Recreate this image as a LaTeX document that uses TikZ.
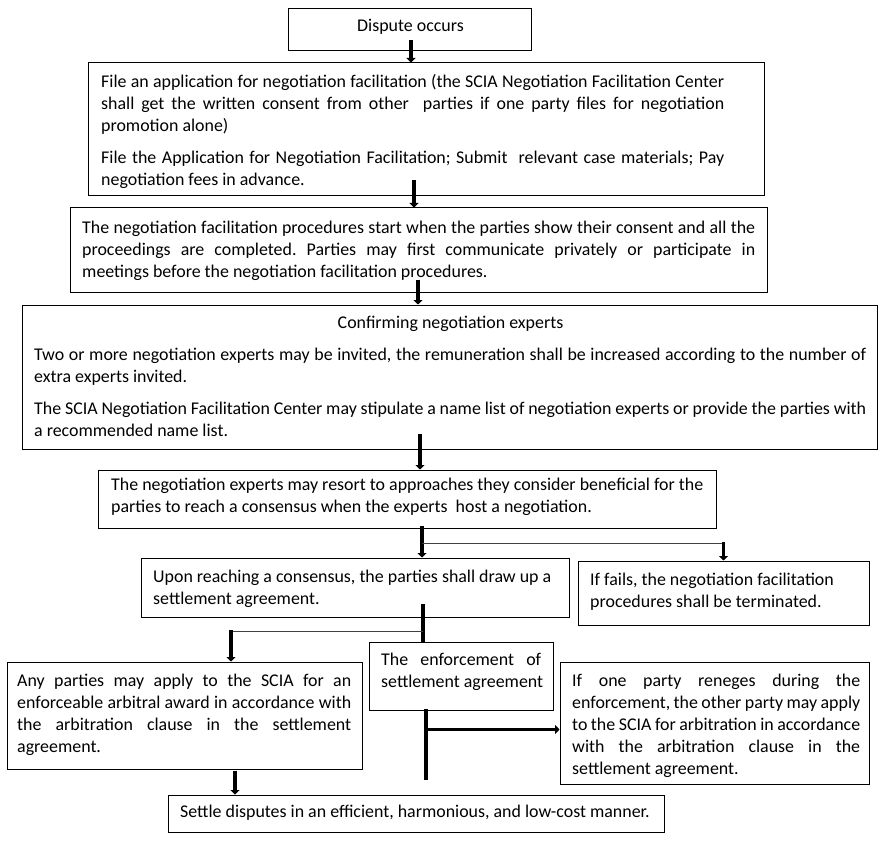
\documentclass[tikz,border=0pt]{standalone}
\usepackage{fontspec}
\setmainfont{Carlito}
\usetikzlibrary{arrows.meta}
\begin{document}
\frenchspacing
\hyphenpenalty=10000
\exhyphenpenalty=10000
\begin{tikzpicture}[x=1pt,y=-1pt,
  box/.style={draw=black,line width=1pt,rectangle,inner sep=0pt},
  txt/.style={anchor=north west,inner sep=0pt,align=justify,font=\fontsize{17.9pt}{22pt}\selectfont\frenchspacing},
  rag/.style={anchor=north west,inner sep=0pt,align=left,font=\fontsize{17.9pt}{22pt}\selectfont\frenchspacing},
  thk/.style={line width=3.5pt,-{Triangle[length=4.5pt,width=9pt]}},
  thkline/.style={line width=3.5pt},
  thn/.style={line width=1.6pt,draw=black!75}]
\useasboundingbox (0,0) rectangle (885,842);
% boxes
\node[box,minimum width=243pt,minimum height=42pt] (b1) at (409.5,30) {};
\node[box,minimum width=676pt,minimum height=133pt] (b2) at (426,129.5) {};
\node[box,minimum width=697pt,minimum height=84pt] (b3) at (418.5,250) {};
\node[box,minimum width=855pt,minimum height=144pt] (b4) at (449.5,377) {};
\node[box,minimum width=618pt,minimum height=58pt] (b5) at (407,499) {};
\node[box,minimum width=428pt,minimum height=59pt] (b6) at (355,587.5) {};
\node[box,minimum width=291pt,minimum height=64pt] (b7) at (723.5,593) {};
\node[box,minimum width=355pt,minimum height=107pt] (b8) at (184.5,715.5) {};
\node[box,minimum width=184pt,minimum height=68pt] (b9) at (461,676) {};
\node[box,minimum width=309pt,minimum height=122pt] (b10) at (714.5,723) {};
\node[box,minimum width=496pt,minimum height=37pt] (b11) at (416,813.5) {};
% texts
\node[anchor=base,inner sep=0pt,font=\fontsize{17.9pt}{22pt}\selectfont] (t1) at (410.5,31.3) {Dispute occurs};
\node[txt,text width=623pt] (t2) at (101,72.2) {\strut File an application for negotiation facilitation (the SCIA Negotiation Facilitation Center\linebreak shall get the written consent from other \ parties if one party files for negotiation\linebreak promotion alone)\par\vspace{10pt}\strut File the Application for Negotiation Facilitation; Submit \ relevant case materials; Pay\linebreak negotiation fees in advance.};
\node[txt,text width=673pt] (t3) at (82,218.2) {\strut The negotiation facilitation procedures start when the parties show their consent and all the\linebreak proceedings are completed. Parties may first communicate privately or participate in\linebreak meetings before the negotiation facilitation procedures.};
\node[anchor=base,inner sep=0pt,font=\fontsize{17.9pt}{22pt}\selectfont] (t4a) at (450.5,328) {Confirming negotiation experts};
\node[txt,text width=832pt] (t4) at (34,345) {\strut Two or more negotiation experts may be invited, the remuneration shall be increased according to the number of\linebreak extra experts invited.\par\vspace{10pt}\strut The SCIA Negotiation Facilitation Center may stipulate a name list of negotiation experts or provide the parties with\linebreak a recommended name list.};
\node[rag] (t5) at (111,475) {\strut The negotiation experts may resort to approaches they consider beneficial for the\\parties to reach a consensus when the experts \ host a negotiation.};
\node[rag] (t6) at (153,566.8) {\strut Upon reaching a consensus, the parties shall draw up a\\settlement agreement.};
\node[rag] (t7) at (590,570) {\strut If fails, the negotiation facilitation\\procedures shall be terminated.};
\node[txt,text width=334pt] (t8) at (17,671) {\strut Any parties may apply to the SCIA for an\linebreak enforceable arbitral award in accordance with\linebreak the arbitration clause in the settlement\linebreak agreement.};
\node[txt,text width=160pt] (t9) at (381,650) {\strut The enforcement of\linebreak \mbox{settlement agreement}};
\node[txt,text width=288pt] (t10) at (572,671) {\strut If one party reneges during the\linebreak enforcement, the other party may apply\linebreak to the SCIA for arbitration in accordance\linebreak with the arbitration clause in the\linebreak settlement agreement.};
\node[rag] (t11) at (180,802) {\strut Settle disputes in an efficient, harmonious, and low-cost manner.};
% connectors
\coordinate (s1) at ([xshift=1.5pt,yshift=11pt]b1.south);
\draw[thk] (s1) -- (s1 |- b2.north);
\coordinate (s2) at ([xshift=-12pt,yshift=16pt]b2.south);
\draw[thk] (s2) -- (s2 |- b3.north);
\coordinate (s3) at ([xshift=-0.5pt,yshift=13pt]b3.south);
\draw[thk] (s3) -- (s3 |- b4.north);
\coordinate (s4) at ([xshift=-29.5pt,yshift=16pt]b4.south);
\draw[thk] (s4) -- (s4 |- b5.north);
\coordinate (s5) at ([xshift=15pt,yshift=3pt]b5.south);
\draw[thk] (s5) -- (s5 |- b6.north);
\coordinate (br1) at ([xshift=15pt,yshift=-15pt]b5.south);
\draw[thn] (br1) -- (br1 -| b7.north);
\coordinate (s7) at ([yshift=2pt]br1 -| b7.north);
\draw[thk] (s7) -- (b7.north);
\coordinate (s6) at ([xshift=68pt,yshift=14pt]b6.south);
\draw[thkline] (s6) -- (s6 |- b9.north);
\coordinate (br2) at ([xshift=68pt,yshift=-14pt]b6.south);
\coordinate (b8t) at ([xshift=46.5pt]b8.north);
\draw[thn] (br2) -- (br2 -| b8t);
\coordinate (s8) at ([yshift=2pt]br2 -| b8t);
\draw[thk] (s8) -- (b8t);
\coordinate (s9) at ([xshift=-35pt,yshift=2pt]b9.south);
\coordinate (dn) at ([yshift=15pt]s9 |- b11.north);
\draw[thkline] (s9) -- (dn);
\coordinate (hz) at ([xshift=-35pt,yshift=-19pt]b9.south);
\draw[thk] (hz) -- (hz -| b10.west);
\coordinate (s10) at ([xshift=50.5pt,yshift=-1pt]b8.south);
\draw[thk] (s10) -- (s10 |- b11.north);
\end{tikzpicture}
\end{document}
